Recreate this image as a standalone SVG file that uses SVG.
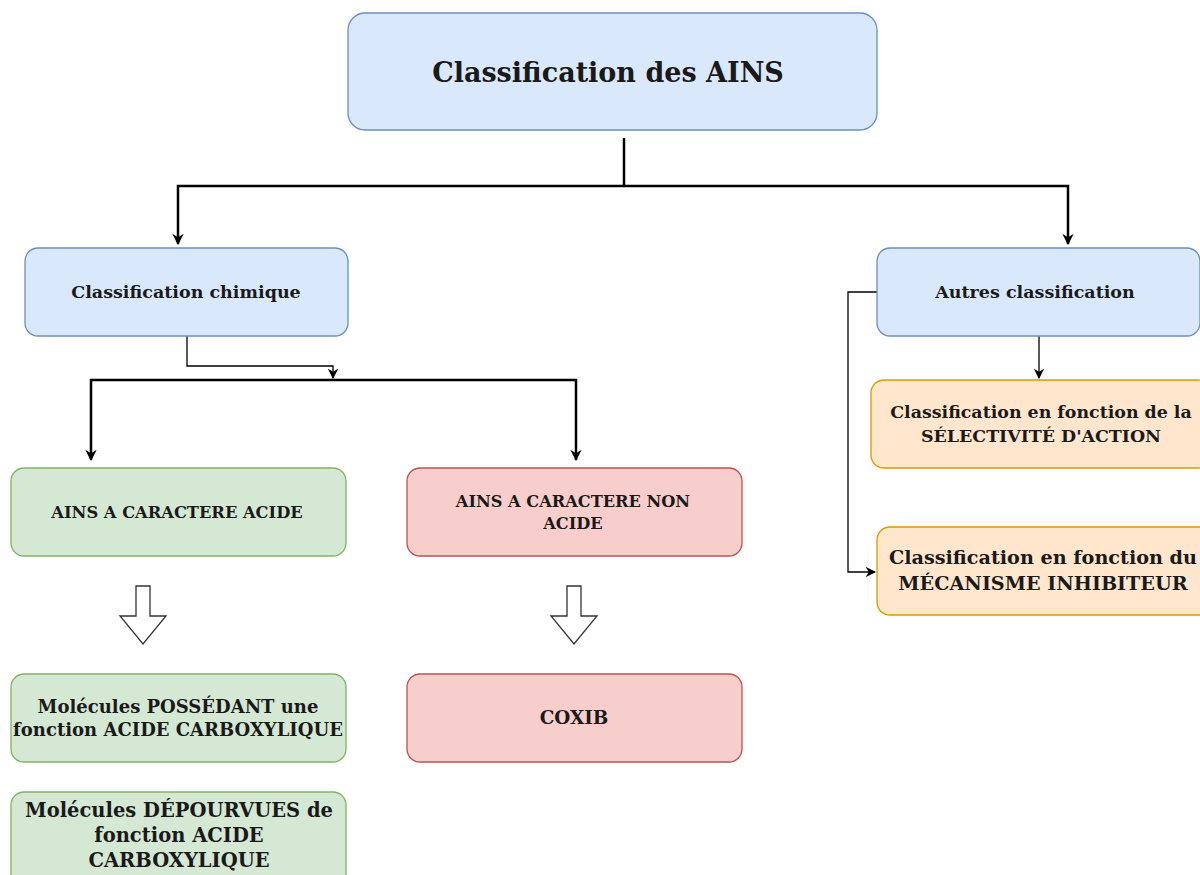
<svg xmlns="http://www.w3.org/2000/svg" width="1200" height="875" viewBox="0 0 1200 875">
<defs>
<style>
.t{font-family:"DejaVu Serif","Liberation Serif",serif;font-weight:bold;fill:#1a1a1a;text-anchor:middle;font-size:17.5px}
.blue{fill:#dae8fc;stroke:#6c8ebf;stroke-width:1.3}
.green{fill:#d5e8d4;stroke:#82b366;stroke-width:1.3}
.red{fill:#f8cecc;stroke:#b85450;stroke-width:1.3}
.orange{fill:#ffe6cc;stroke:#d79b00;stroke-width:1.3}
.thick{fill:none;stroke:#000;stroke-width:2.5}
.thin{fill:none;stroke:#000;stroke-width:1.3}
.blk{fill:#fff;stroke:#333;stroke-width:1.3}
</style>
<marker id="ah" viewBox="0 0 10 10" refX="9" refY="5" markerWidth="4.5" markerHeight="4.5" markerUnits="strokeWidth" orient="auto"><path d="M0,0 L10,5 L0,10 L3,5 z" fill="#000"/></marker>
<marker id="ah2" viewBox="0 0 10 10" refX="9" refY="5" markerWidth="8" markerHeight="8" markerUnits="strokeWidth" orient="auto"><path d="M0,0 L10,5 L0,10 L3,5 z" fill="#000"/></marker>
</defs>
<rect width="1200" height="875" fill="#fff"/>
<g id="connectors">
<path class="thick" d="M624,138 V186"/>
<path class="thick" d="M624,186 H178 V244" marker-end="url(#ah)"/>
<path class="thick" d="M624,186 H1068 V244" marker-end="url(#ah)"/>
<path class="thin" d="M187,336 V366 H333 V378" marker-end="url(#ah2)"/>
<path class="thick" d="M333,380 H91 V460" marker-end="url(#ah)"/>
<path class="thick" d="M333,380 H576 V460" marker-end="url(#ah)"/>
<path class="thin" d="M1039,336 V378" marker-end="url(#ah2)"/>
<path class="thin" d="M877,292 H848 V572 H875" marker-end="url(#ah2)"/>
<path class="blk" d="M136,586 H150 V616 H166 L143,644 L120,616 H136 Z"/>
<path class="blk" d="M567,586 H581 V616 H597 L574,644 L551,616 H567 Z"/>
</g>
<g id="root">
<rect class="blue" x="348" y="13" width="529" height="117" rx="17"/>
<text class="t" x="608" y="82" style="font-size:27px">Classification des AINS</text>
</g>
<g id="chimique">
<rect class="blue" x="25" y="248" width="323" height="88" rx="13"/>
<text class="t" x="186" y="298">Classification chimique</text>
</g>
<g id="autres">
<rect class="blue" x="877" y="248" width="323" height="88" rx="13"/>
<text class="t" x="1035" y="298">Autres classification</text>
</g>
<g id="acide">
<rect class="green" x="11" y="468" width="335" height="88" rx="13"/>
<text class="t" x="177" y="518" style="font-size:16.3px">AINS A CARACTERE ACIDE</text>
</g>
<g id="nonacide">
<rect class="red" x="407" y="468" width="335" height="88" rx="13"/>
<text class="t" x="573" y="507" style="font-size:16.2px">AINS A CARACTERE NON</text>
<text class="t" x="573" y="529" style="font-size:16.2px">ACIDE</text>
</g>
<g id="possedant">
<rect class="green" x="11" y="674" width="335" height="88" rx="13"/>
<text class="t" x="178" y="713" style="font-size:18px">Molécules POSSÉDANT une</text>
<text class="t" x="178" y="736" style="font-size:18px">fonction ACIDE CARBOXYLIQUE</text>
</g>
<g id="coxib">
<rect class="red" x="407" y="674" width="335" height="88" rx="13"/>
<text class="t" x="574" y="724" style="font-size:18.4px">COXIB</text>
</g>
<g id="depourvues">
<rect class="green" x="11" y="792" width="335" height="100" rx="13"/>
<text class="t" x="179" y="817" style="font-size:19.5px">Molécules DÉPOURVUES de</text>
<text class="t" x="179" y="842" style="font-size:19.5px">fonction ACIDE</text>
<text class="t" x="179" y="867" style="font-size:19.5px">CARBOXYLIQUE</text>
</g>
<g id="selectivite">
<rect class="orange" x="871" y="380" width="340" height="88" rx="13"/>
<text class="t" x="1041" y="418" style="font-size:17.4px">Classification en fonction de la</text>
<text class="t" x="1041" y="442" style="font-size:17.4px">SÉLECTIVITÉ D'ACTION</text>
</g>
<g id="mecanisme">
<rect class="orange" x="877" y="527" width="340" height="88" rx="13"/>
<text class="t" x="1043" y="564" style="font-size:19.2px">Classification en fonction du</text>
<text class="t" x="1043" y="590" style="font-size:19.2px">MÉCANISME INHIBITEUR</text>
</g>
</svg>
